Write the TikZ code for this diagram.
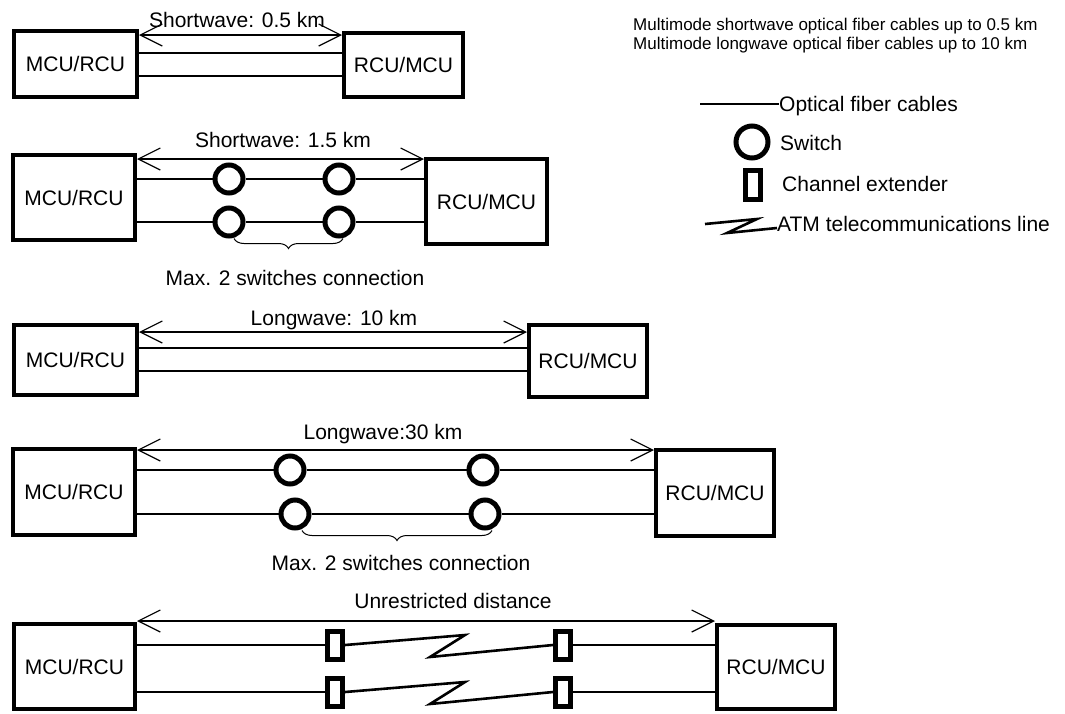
\documentclass[tikz,border=0pt]{standalone}
\usepackage{fontspec}
\setmainfont{Liberation Sans}
\usetikzlibrary{arrows.meta,decorations.pathreplacing}
\begin{document}
\begin{tikzpicture}[x=1pt,y=-1pt,
  box/.style={draw, line width=4pt, inner sep=0pt, font=\fontsize{21}{25}\selectfont},
  cable/.style={line width=2.6pt},
  dim/.style={line width=1.2pt, {Straight Barb[length=22pt,width=22pt]}-{Straight Barb[length=22pt,width=22pt]}},
  switchnode/.style={circle, draw, line width=5pt, minimum size=28pt, inner sep=0pt},
  extnode/.style={rectangle, draw, line width=5pt, minimum width=15pt, minimum height=28pt, inner sep=0pt},
  lbl/.style={font=\fontsize{21}{25}\selectfont, inner sep=0pt, anchor=base},
  lgd/.style={font=\fontsize{21}{25}\selectfont, inner sep=0pt, anchor=base west},
  bracedec/.style={decorate, decoration={brace, amplitude=10pt, mirror}, line width=1pt}
]
\useasboundingbox (0,0) rectangle (1065,713);

% ---------- Row 1 ----------
\node[box, minimum width=123pt, minimum height=66pt] (b1l) at (75.5,64) {MCU/RCU};
\node[box, minimum width=119pt, minimum height=64pt] (b1r) at (403.5,65) {RCU/MCU};
\coordinate (a1) at (0,35);
\coordinate (c1a) at (0,53);
\coordinate (c1b) at (0,76);
\draw[dim] (b1l.east |- a1) -- (b1r.west |- a1);
\draw[cable] (b1l.east |- c1a) -- (b1r.west |- c1a);
\draw[cable] (b1l.east |- c1b) -- (b1r.west |- c1b);
\node[lbl] (l1) at (237,27) {Shortwave: 0.5 km};

% ---------- Row 2 ----------
\node[box, minimum width=122pt, minimum height=85pt] (b2l) at (74,197.5) {MCU/RCU};
\node[box, minimum width=121pt, minimum height=85pt] (b2r) at (486.5,201.5) {RCU/MCU};
\coordinate (a2) at (0,159);
\node[switchnode] (s2a) at (229,179) {};
\node[switchnode] (s2b) at (339,179) {};
\node[switchnode] (s2c) at (229,222) {};
\node[switchnode] (s2d) at (339,222) {};
\draw[dim] (b2l.east |- a2) -- (b2r.west |- a2);
\draw[cable] (b2l.east |- s2a) -- (s2a) -- (s2b) -- (b2r.west |- s2b);
\draw[cable] (b2l.east |- s2c) -- (s2c) -- (s2d) -- (b2r.west |- s2d);
\draw[bracedec] ([xshift=5pt]s2c.south) -- ([xshift=4pt]s2d.south);
\node[lbl] (l2) at (283,147) {Shortwave: 1.5 km};
\node[lbl] (m2) at (295,285) {Max. 2 switches connection};

% ---------- Row 3 ----------
\node[box, minimum width=123pt, minimum height=70pt] (b3l) at (75.5,360) {MCU/RCU};
\node[box, minimum width=118pt, minimum height=72pt] (b3r) at (588,361) {RCU/MCU};
\coordinate (a3) at (0,332);
\coordinate (c3a) at (0,348);
\coordinate (c3b) at (0,371);
\draw[dim] (b3l.east |- a3) -- (b3r.west |- a3);
\draw[cable] (b3l.east |- c3a) -- (b3r.west |- c3a);
\draw[cable] (b3l.east |- c3b) -- (b3r.west |- c3b);
\node[lbl] (l3) at (334,325) {Longwave: 10 km};

% ---------- Row 4 ----------
\node[box, minimum width=122pt, minimum height=86pt] (b4l) at (74,492) {MCU/RCU};
\node[box, minimum width=118pt, minimum height=86pt] (b4r) at (715,493) {RCU/MCU};
\coordinate (a4) at (0,450);
\node[switchnode] (s4a) at (290,470) {};
\node[switchnode] (s4b) at (483,470) {};
\node[switchnode] (s4c) at (295,514) {};
\node[switchnode] (s4d) at (485,514) {};
\draw[dim] (b4l.east |- a4) -- (b4r.west |- a4);
\draw[cable] (b4l.east |- s4a) -- (s4a) -- (s4b) -- (b4r.west |- s4b);
\draw[cable] (b4l.east |- s4c) -- (s4c) -- (s4d) -- (b4r.west |- s4d);
\draw[bracedec] ([xshift=7pt]s4c.south) -- ([xshift=7pt]s4d.south);
\node[lbl] (l4) at (383,439) {Longwave:30 km};
\node[lbl] (m4) at (401,570) {Max. 2 switches connection};

% ---------- Row 5 ----------
\node[box, minimum width=121pt, minimum height=85pt] (b5l) at (74.5,666.5) {MCU/RCU};
\node[box, minimum width=118pt, minimum height=84pt] (b5r) at (776,667) {RCU/MCU};
\coordinate (a5) at (0,621);
\node[extnode] (e5a) at (335,645) {};
\node[extnode] (e5b) at (563,645) {};
\node[extnode] (e5c) at (335,692) {};
\node[extnode] (e5d) at (563,692) {};
\coordinate (z1a) at (465,635);
\coordinate (z1b) at (430,657);
\coordinate (z2a) at (465,682);
\coordinate (z2b) at (430,704);
\draw[dim] (b5l.east |- a5) -- (b5r.west |- a5);
\draw[cable] (b5l.east |- e5a) -- (e5a);
\draw[cable] (e5a.east) -- (z1a) -- (z1b) -- (e5b.west);
\draw[cable] (e5b) -- (b5r.west |- e5b);
\draw[cable] (b5l.east |- e5c) -- (e5c);
\draw[cable] (e5c.east) -- (z2a) -- (z2b) -- (e5d.west);
\draw[cable] (e5d) -- (b5r.west |- e5d);
\node[lbl] (l5) at (453,608) {Unrestricted distance};

% ---------- Notes ----------
\node[anchor=base west, inner sep=0pt, font=\fontsize{17}{20}\selectfont] (t1) at (633,30) {Multimode shortwave optical fiber cables up to 0.5 km};
\node[anchor=base west, inner sep=0pt, font=\fontsize{17}{20}\selectfont] (t2) at (633,49) {Multimode longwave optical fiber cables up to 10 km};

% ---------- Legend ----------
\node[lgd] (lt1) at (779,111.7) {Optical fiber cables};
\coordinate (lc1) at (700,104);
\draw[cable] (lc1) -- (lt1.west |- lc1);
\node[switchnode, minimum size=32pt] (ls) at (752,142) {};
\node[lgd] (lt2) at (780,150) {Switch};
\node[extnode, minimum height=29pt] (le) at (753,185) {};
\node[lgd] (lt3) at (782,191.7) {Channel extender};
\coordinate (lz0) at (705,224);
\coordinate (lz1) at (757,219);
\coordinate (lz2) at (727,233);
\node[lgd] (lt4) at (777,231.7) {ATM telecommunications line};
\draw[cable] (lz0) -- (lz1) -- (lz2) -- (lt4.west |- 0,228);
\end{tikzpicture}
\end{document}
